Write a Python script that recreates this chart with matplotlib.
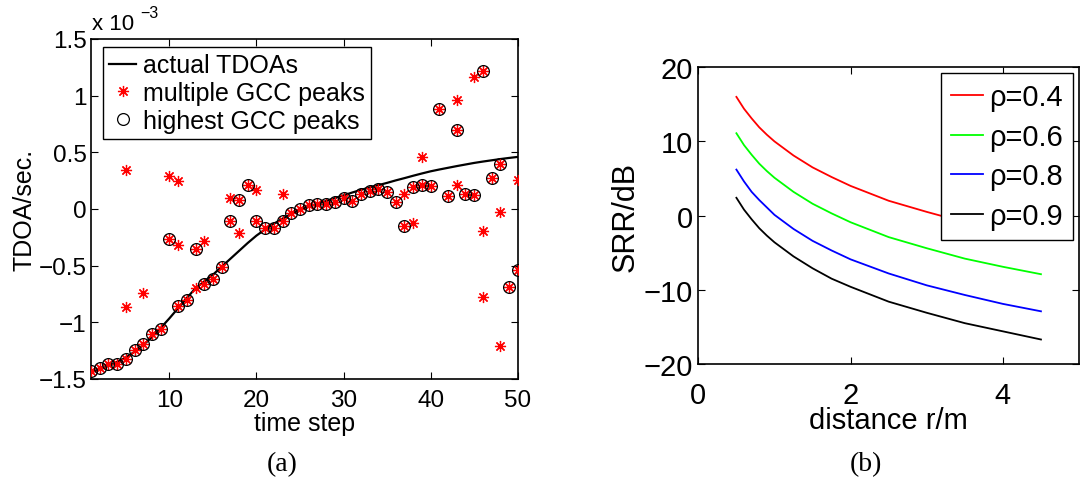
import matplotlib
matplotlib.use("Agg")
import matplotlib.pyplot as plt

plt.rcParams['font.family'] = ['Liberation Sans', 'DejaVu Sans']

# ---- (a) TDOA data (units of 1e-3 sec) ----
steps = list(range(1, 51))
actual_tdoa = [-1.44, -1.415, -1.385, -1.35, -1.31, -1.26, -1.2, -1.13, -1.05, -0.965,
               -0.875, -0.785, -0.70, -0.64, -0.58, -0.51, -0.44, -0.37, -0.30, -0.235,
               -0.18, -0.13, -0.085, -0.045, -0.01, 0.02, 0.045, 0.07, 0.095, 0.12,
               0.145, 0.168, 0.19, 0.21, 0.23, 0.252, 0.272, 0.293, 0.313, 0.332,
               0.348, 0.363, 0.378, 0.392, 0.406, 0.418, 0.429, 0.44, 0.45, 0.459]
highest_peaks = [-1.432, -1.403, -1.368, -1.368, -1.32, -1.247, -1.19, -1.103, -1.056, -0.265,
                 -0.853, -0.8, -0.353, -0.659, -0.618, -0.515, -0.103, 0.082, 0.209, -0.103,
                 -0.168, -0.168, -0.103, -0.035, 0.0, 0.032, 0.041, 0.047, 0.062, 0.094,
                 0.071, 0.135, 0.156, 0.176, 0.147, 0.062, -0.153, 0.191, 0.215, 0.2,
                 0.885, 0.112, 0.7, 0.135, 0.126, 1.215, 0.274, 0.397, -0.688, -0.541]
extra_steps = [5, 5, 7, 10, 11, 11, 13, 14, 17, 18, 20, 23, 37, 38, 39, 43, 43, 45, 46, 46, 48, 48, 50]
extra_peaks = [0.347, -0.868, -0.741, 0.288, 0.244, -0.32, -0.7, -0.279, 0.097, -0.212, 0.171,
               0.135, 0.135, -0.124, 0.459, 0.959, 0.209, 1.162, -0.191, -0.776, -0.029, -1.206, 0.259]

# ---- (b) SRR data ----
dist = [0.5, 0.55, 0.6, 0.7, 0.8, 0.9, 1.0, 1.25, 1.5, 1.75, 2.0, 2.5, 3.0, 3.5, 4.0, 4.5]
srr = {
    'ρ=0.4': [16.0, 15.2, 14.4, 13.1, 11.9, 10.9, 10.0, 8.1, 6.5, 5.2, 4.0, 2.0, 0.5, -0.9, -2.0, -3.1],
    'ρ=0.6': [11.1, 10.3, 9.5, 8.2, 7.0, 6.0, 5.1, 3.2, 1.6, 0.3, -0.9, -2.9, -4.4, -5.8, -6.9, -7.9],
    'ρ=0.8': [6.2, 5.4, 4.6, 3.2, 2.1, 1.1, 0.1, -1.8, -3.4, -4.7, -5.9, -7.8, -9.4, -10.7, -11.9, -12.9],
    'ρ=0.9': [2.4, 1.6, 0.8, -0.5, -1.7, -2.7, -3.6, -5.5, -7.1, -8.5, -9.6, -11.6, -13.1, -14.5, -15.6, -16.7],
}
srr_colors = ['#ff0000', '#00ff00', '#0000ff', '#000000']

fig = plt.figure(figsize=(10.8, 4.81), dpi=100)

# ---- left panel ----
ax1 = fig.add_axes([0.0843, 0.21, 0.395, 0.707])
ax1.plot(steps, actual_tdoa, color='black', lw=1.6, label='actual TDOAs', zorder=2)
ax1.plot(steps + extra_steps, highest_peaks + extra_peaks, ls='none', marker=(8, 2, 0),
         ms=8, mec='red', mew=0.9, color='red', label='multiple GCC peaks', zorder=3)
ax1.plot(steps, highest_peaks, ls='none', marker='o', ms=8.5, mfc='none', mec='black',
         mew=0.9, label='highest GCC peaks', zorder=4)
ax1.set_xlim(1, 50)
ax1.set_ylim(-1.5, 1.5)
ax1.set_xticks([10, 20, 30, 40, 50])
ax1.set_yticks([-1.5, -1, -0.5, 0, 0.5, 1, 1.5])
ax1.set_yticklabels(['\u22121.5', '\u22121', '\u22120.5', '0', '0.5', '1', '1.5'])
ax1.set_xlabel('time step', fontsize=18, labelpad=0)
ax1.set_ylabel('TDOA/sec.', fontsize=18, labelpad=2)
ax1.tick_params(direction='in', top=True, right=True, labelsize=17.5, length=5)
ax1.tick_params(axis='x', pad=7)
ax1.tick_params(axis='y', pad=3)
# MATLAB-style exponent label above the y axis
ax1.text(0.002, 1.015, 'x 10', transform=ax1.transAxes, fontsize=16, ha='left', va='bottom')
ax1.text(0.115, 1.1, '\u22123', transform=ax1.transAxes, fontsize=11.5, ha='left', va='top')
leg1 = ax1.legend(loc='upper left', bbox_to_anchor=(0.027, 0.976), borderaxespad=0,
                  fontsize=18, fancybox=False, edgecolor='black', framealpha=1,
                  numpoints=1, handlelength=1.1, handletextpad=0.25, borderpad=0.25,
                  labelspacing=0.15)
leg1.get_frame().set_linewidth(1.0)

# ---- right panel ----
ax2 = fig.add_axes([0.6466, 0.2412, 0.3525, 0.617])
for (lab, vals), c in zip(srr.items(), srr_colors):
    ax2.plot(dist, vals, color=c, lw=1.3, label=lab)
ax2.set_xlim(0, 5)
ax2.set_ylim(-20, 20)
ax2.set_xticks([0, 2, 4])
ax2.set_yticks([-20, -10, 0, 10, 20])
ax2.set_yticklabels(['\u221220', '\u221210', '0', '10', '20'])
ax2.set_xlabel('distance r/m', fontsize=21, labelpad=-2)
ax2.set_ylabel('SRR/dB', fontsize=22, labelpad=2)
ax2.tick_params(direction='in', top=True, right=True, labelsize=21, length=5)
ax2.tick_params(axis='x', pad=12)
ax2.tick_params(axis='y', pad=4)
leg2 = ax2.legend(loc='upper right', bbox_to_anchor=(0.984, 0.981), borderaxespad=0,
                  fontsize=21, fancybox=False, edgecolor='black', framealpha=1,
                  handlelength=1.1, handletextpad=0.2, borderpad=0.35, labelspacing=0.4)
leg2.get_frame().set_linewidth(1.0)

for ax in (ax1, ax2):
    for s in ax.spines.values():
        s.set_linewidth(1.2)

fig.text(0.261, 0.0333, '(a)', fontsize=20, family='Liberation Serif', ha='center', va='center')
fig.text(0.802, 0.0333, '(b)', fontsize=20, family='Liberation Serif', ha='center', va='center')

fig.savefig('out.png', dpi=100)
